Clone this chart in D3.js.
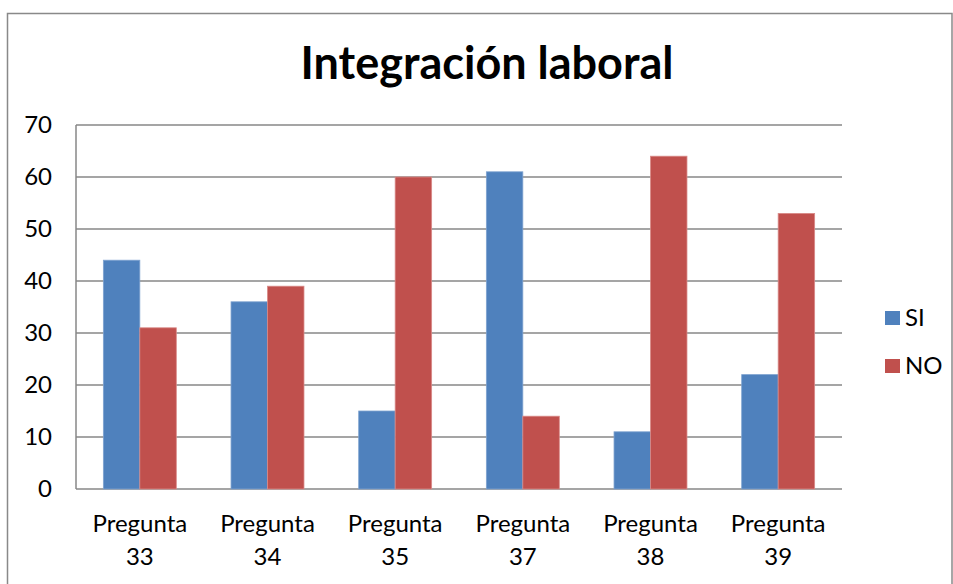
<!DOCTYPE html>
<html>
<head>
<meta charset="utf-8">
<script src="https://cdn.jsdelivr.net/npm/d3@7"></script>
<style>
body { margin: 0; background: #fff; }
text { font-family: Lato, "Open Sans", sans-serif; fill: #000; }
</style>
</head>
<body>
<svg id="chart" width="953" height="584"></svg>
<script>
const categories = ["Pregunta 33", "Pregunta 34", "Pregunta 35", "Pregunta 37", "Pregunta 38", "Pregunta 39"];
const seriesNames = ["SI", "NO"];
const siValues = [44, 36, 15, 61, 11, 22];
const noValues = [31, 39, 60, 14, 64, 53];
const yTicks = [0, 10, 20, 30, 40, 50, 60, 70];
const colors = ["#4F81BD", "#C0504D"];

const svg = d3.select("#chart");
const plot = { left: 76, right: 842, top: 125, bottom: 489 };

// outer frame
svg.append("rect")
  .attr("x", 7.5).attr("y", 13.5)
  .attr("width", 944.5).attr("height", 600)
  .attr("fill", "none").attr("stroke", "#898989").attr("stroke-width", 1.5);

svg.append("text")
  .attr("x", 487).attr("y", 79)
  .attr("text-anchor", "middle")
  .style("font-size", "45px").style("font-weight", "bold")
  .text("Integración laboral");

const x = d3.scaleBand().domain(categories).range([plot.left, plot.right]);
const y = d3.scaleLinear().domain([0, 70]).range([plot.bottom, plot.top]);
const barW = x.bandwidth() / 3.5;
const xs = d3.scaleBand().domain(seriesNames).range([0, barW * 2]);

// gridlines
svg.append("g").selectAll("line").data(yTicks).join("line")
  .attr("x1", plot.left).attr("x2", plot.right)
  .attr("y1", d => y(d)).attr("y2", d => y(d))
  .attr("stroke", "#878787").attr("stroke-width", 1.5);

svg.append("line")
  .attr("x1", plot.left).attr("x2", plot.left)
  .attr("y1", plot.top).attr("y2", plot.bottom)
  .attr("stroke", "#878787").attr("stroke-width", 1.5);

// y tick labels
svg.append("g").selectAll("text").data(yTicks).join("text")
  .attr("x", 52).attr("y", d => y(d) + 8)
  .attr("text-anchor", "end")
  .style("font-size", "24px")
  .text(d => d);

// bars
const rows = categories.map((c, i) => ({ cat: c, vals: [siValues[i], noValues[i]] }));
rows.forEach(r => {
  const x0 = x(r.cat) + (x.bandwidth() - barW * 2) / 2;
  r.vals.forEach((v, j) => {
    svg.append("rect")
      .attr("x", x0 + xs(seriesNames[j]))
      .attr("y", y(v))
      .attr("width", barW)
      .attr("height", y(0) - y(v))
      .attr("fill", colors[j])
      .attr("stroke", j === 0 ? "#7fa3d0" : "#d98a88")
      .attr("stroke-width", 0.8);
  });
});

// x labels
categories.forEach(c => {
  const parts = c.split(" ");
  const t = svg.append("text")
    .attr("text-anchor", "middle")
    .style("font-size", "24px");
  t.append("tspan").attr("x", x(c) + x.bandwidth() / 2).attr("y", 532).text(parts[0]);
  t.append("tspan").attr("x", x(c) + x.bandwidth() / 2).attr("y", 565).text(parts[1]);
});

// legend
seriesNames.forEach((s, i) => {
  const ly = 311 + i * 48;
  svg.append("rect").attr("x", 885).attr("y", ly).attr("width", 15).attr("height", 14).attr("fill", colors[i]);
  svg.append("text").attr("x", 905).attr("y", ly + 15).style("font-size", "24px").text(s);
});
</script>
</body>
</html>
